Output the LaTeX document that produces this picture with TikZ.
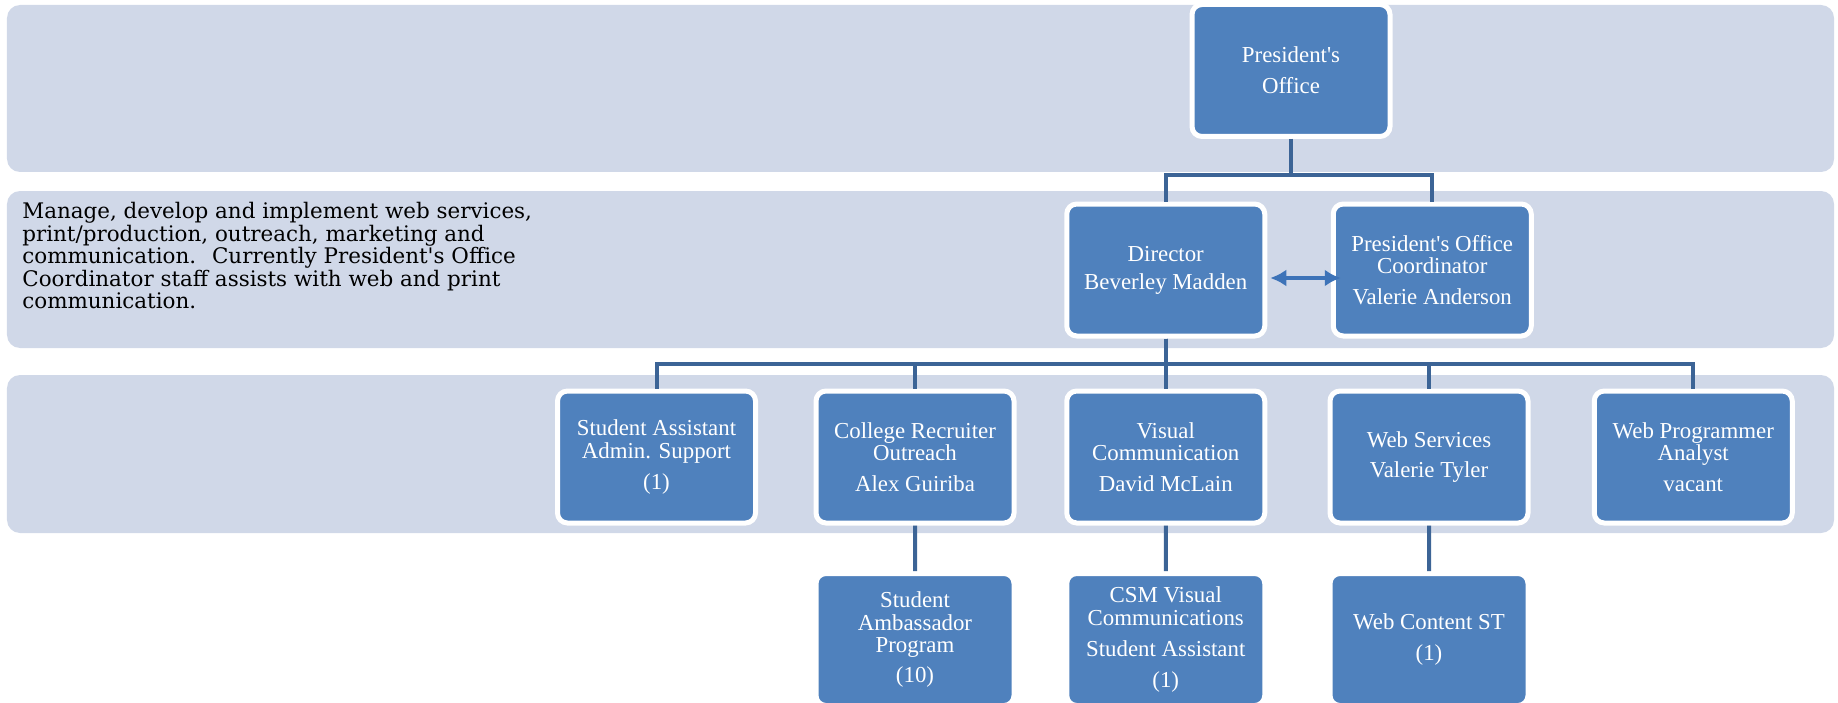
\documentclass[tikz,border=0pt]{standalone}
\usepackage{fontspec}
\setmainfont{Liberation Serif}
\newfontfamily\boxfont{Liberation Serif}
\newfontfamily\descfont{DejaVu Serif}
\usetikzlibrary{arrows.meta}
\definecolor{bandfill}{HTML}{D0D8E8}
\definecolor{boxblue}{HTML}{4F81BD}
\definecolor{lnk}{HTML}{3C6496}
\definecolor{arr}{HTML}{3D73B8}

\begin{document}
\begin{tikzpicture}[
level distance=3.99cm,
level 1/.style={sibling distance=5.37cm,
  edge from parent path={(\tikzparentnode.south) -- ++(0,-0.71) -| (\tikzchildnode.north)}},
level 2/.style={level distance=3.74cm, sibling distance=5.175cm,
  edge from parent path={(\tikzparentnode.south) -- ++(0,-0.5) -| (\tikzchildnode.north)}},
level 3/.style={level distance=3.65cm,
  edge from parent path={(\tikzparentnode.south) -- (\tikzchildnode.north)}},
edge from parent/.style={draw=lnk, line width=0.08cm}
]

\tikzstyle{lane} = [fill=bandfill, rounded corners=0.26cm]
\tikzstyle{u} = [draw=white, fill=boxblue, line width=0.1cm, rounded corners=0.2cm,
  minimum width=3.96cm, minimum height=2.64cm, inner sep=0pt,
  text=white, align=center, font=\boxfont\fontsize{13pt}{13pt}\selectfont]
\tikzstyle{dbl} = [draw=arr, line width=0.09cm, {Latex[length=0.32cm,width=0.34cm]}-{Latex[length=0.32cm,width=0.34cm]}]

\useasboundingbox (0,0) rectangle (36.76,-14.06);

% bands
\path[lane] (0.14,-0.1) rectangle (36.68,-3.44);
\path[lane] (0.14,-3.82) rectangle (36.68,-6.96);
\path[lane] (0.14,-7.5) rectangle (36.68,-10.66);

\node[anchor=north west, inner sep=0pt, align=left,
  font=\descfont\fontsize{12.2pt}{12.8pt}\selectfont] (desc) at (0.44,-4.04)
{Manage, develop and implement web services,\\
print/production, outreach, marketing and\\
communication.~ Currently President's Office\\
Coordinator staff assists with web and print\\
communication.};

\node[u] (po) at (25.82,-1.41) {President's\\[4.5pt]Office}
child{node[u, xshift=0.18cm] (dir) {Director\\[3pt]Beverley Madden}
	child{node[u, xshift=0.165cm] (sa) {Student Assistant\\Admin. Support\\[5pt](1)}}
	child{node[u, xshift=0.16cm] (cro) {College Recruiter\\Outreach\\[4.5pt]Alex Guiriba}
		child{node[u] (sap) {Student\\Ambassador\\Program\\[4pt](10)}}
		}
	child{node[u] (vc) {Visual\\Communication\\[4.5pt]David McLain}
		child{node[u] (csm) {CSM Visual\\Communications\\[4.5pt]Student Assistant\\[4.5pt](1)}}
		}
	child{node[u, xshift=0.09cm] (ws) {Web Services\\[4.5pt]Valerie Tyler}
		child{node[u] (wcs) {Web Content ST\\[4.5pt](1)}}
		}
	child{node[u, xshift=0.2cm] (wpa) {Web Programmer\\Analyst\\[4.5pt]vacant}}
	}
child{node[u, xshift=0.14cm] (poc) {President's Office\\Coordinator\\[4.5pt]Valerie Anderson}}
;

\draw[dbl] ([xshift=0.06cm,yshift=-0.16cm]dir.east) -- ([xshift=0.2cm,yshift=-0.16cm]poc.west);
\end{tikzpicture}
\end{document}
